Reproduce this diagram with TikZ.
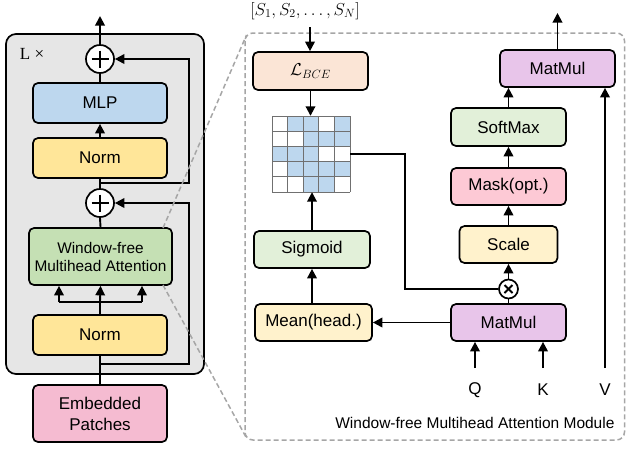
\documentclass[tikz,border=0pt]{standalone}
\usepackage{fontspec}
\setmainfont{Liberation Sans}
\newfontfamily\serifL{Liberation Serif}
\usetikzlibrary{arrows.meta}
\definecolor{panelgray}{HTML}{E6E6E6}
\definecolor{mlpblue}{HTML}{BDD7EE}
\definecolor{normyel}{HTML}{FFE699}
\definecolor{wfgreen}{HTML}{C5E0B4}
\definecolor{embpink}{HTML}{F5BBD1}
\definecolor{lbcepeach}{HTML}{FBE5D6}
\definecolor{lightgreen}{HTML}{E2F0D9}
\definecolor{lightyel}{HTML}{FFF2CC}
\definecolor{maskpink}{HTML}{FDC9D5}
\definecolor{matpurple}{HTML}{E8C5EA}
\definecolor{dashgray}{HTML}{A6A6A6}
\definecolor{gridgray}{HTML}{707070}
\begin{document}
\begin{tikzpicture}[x=1pt,y=-1pt,
  box/.style={draw=black, line width=1.7pt, rounded corners=5pt, inner sep=0pt, align=center,
    font=\fontsize{17}{19}\selectfont},
  ln/.style={line width=1.9pt},
  arr/.style={line width=1.9pt, -{Triangle[length=9.5pt,width=9.5pt]}},
  pluscirc/.style={circle, draw=black, line width=1.7pt, fill=white, inner sep=0pt, minimum size=28pt},
  dashline/.style={draw=dashgray, line width=1.5pt, dash pattern=on 5pt off 3pt},
  cell/.style={draw=gridgray, line width=0.8pt}
]
\useasboundingbox (0,0) rectangle (626,448);

% ---------------- left panel ----------------
\node[draw=black, line width=1.7pt, fill=panelgray, rounded corners=10pt, minimum width=198pt, minimum height=340pt, inner sep=0pt] (panel) at (105,204) {};
\node[font=\serifL\fontsize{17}{17}\selectfont] (lx) at (32,54) {L ×};

\node[pluscirc] (p1) at (100,59) {};
\draw[line width=2.6pt] (p1.center) ++(-8.5,0) -- ++(17,0);
\draw[line width=2.6pt] (p1.center) ++(0,-8.5) -- ++(0,17);
\node[box, fill=mlpblue, minimum width=134pt, minimum height=40pt] (mlp) at (100,103) {MLP};
\node[box, fill=normyel, minimum width=134pt, minimum height=40pt] (normt) at (100,158) {Norm};
\node[pluscirc] (p2) at (100,203) {};
\draw[line width=2.6pt] (p2.center) ++(-8.5,0) -- ++(17,0);
\draw[line width=2.6pt] (p2.center) ++(0,-8.5) -- ++(0,17);
\node[box, fill=wfgreen, minimum width=143pt, minimum height=57pt, font=\fontsize{15.4}{18}\selectfont] (wf) at (100.5,256.5) {Window-free\\Multihead Attention};
\node[box, fill=normyel, minimum width=134pt, minimum height=40pt] (normb) at (100,335) {Norm};
\node[box, fill=embpink, minimum width=134pt, minimum height=57pt, font=\fontsize{17}{21}\selectfont] (emb) at (100,413.5) {Embedded\\Patches};

\coordinate (top1) at (100,16);
\coordinate (rx) at (189,0);
\coordinate (b1) at (100,183);
\coordinate (b2) at (100,364);
\coordinate (fan) at (100,302);
\coordinate (fl) at (59,302);
\coordinate (fr) at (142,302);

\draw[arr] (p1.north) -- (top1);
\draw[ln] (mlp.north) -- (p1.south);
\draw[arr] (normt.north) -- (mlp.south);
\draw[ln] (p2.north) -- (normt.south);
\draw[arr] (b1) -- (b1 -| rx) |- (p1.east);
\draw[ln] (wf.north) -- (p2.south);
\draw[ln] (normb.north) -- (fan);
\draw[ln] (fl) -- (fr);
\draw[arr] (fl) -- (fl |- wf.south);
\draw[arr] (fan) -- (wf.south);
\draw[arr] (fr) -- (fr |- wf.south);
\draw[ln] (emb.north) -- (normb.south);
\draw[arr] (b2) -- (b2 -| rx) |- (p2.east);

% ---------------- right panel ----------------
\coordinate (rtl) at (245,33);
\coordinate (rbr) at (624.5,440);
\draw[dashline, rounded corners=8pt] (rtl) rectangle (rbr);
\coordinate (dtop) at (246.5,35);
\coordinate (dbot) at (246.5,438);
\coordinate (wft) at (163,228);
\coordinate (wfb) at (163,285);
\draw[dashline] (wft) -- (dtop);
\draw[dashline] (wfb) -- (dbot);

\node[font=\fontsize{17}{17}\selectfont] (seq) at (305,11) {$[S_1,S_2,\ldots,S_N]$};
\node[box, fill=lbcepeach, minimum width=115pt, minimum height=38pt] (lbce) at (310.5,71) {$\mathcal{L}_{BCE}$};

% grid
\node[inner sep=0pt, minimum width=78pt, minimum height=76pt] (grid) at (311,154) {};
\foreach \r/\row in {0/{0,1,1,0,1},1/{0,0,1,1,1},2/{1,1,1,0,0},3/{0,1,1,1,1},4/{0,0,1,1,0}}{
  \foreach \v [count=\c from 0] in \row {
    \ifnum\v=1
      \fill[mlpblue] (272+\c*15.6,116+\r*15.2) rectangle ++(15.6,15.2);
    \fi
  }
}
\foreach \c in {0,...,5} \draw[cell] (272+\c*15.6,116) -- (272+\c*15.6,192);
\foreach \r in {0,...,5} \draw[cell] (272,116+\r*15.2) -- (350,116+\r*15.2);

\node[box, fill=lightgreen, minimum width=116pt, minimum height=37pt] (sig) at (312,249.5) {Sigmoid};
\node[box, fill=lightyel, minimum width=117pt, minimum height=37pt] (mean) at (313.5,322.5) {Mean(head.)};
\node[box, fill=matpurple, minimum width=115pt, minimum height=37pt] (mmb) at (508.5,322.5) {MatMul};
\node[circle, draw=black, line width=1.7pt, fill=white, inner sep=0pt, minimum size=19pt] (ox) at (508.5,289) {};
\draw[line width=1.8pt] (ox.center) ++(-4,-4) -- ++(8,8);
\draw[line width=1.8pt] (ox.center) ++(-4,4) -- ++(8,-8);
\node[box, fill=lightyel, minimum width=98pt, minimum height=37pt] (scale) at (508.5,244.5) {Scale};
\node[box, fill=maskpink, minimum width=115pt, minimum height=37pt] (mask) at (508.5,186.5) {Mask(opt.)};
\node[box, fill=lightgreen, minimum width=115pt, minimum height=38pt] (soft) at (508.5,127) {SoftMax};
\node[box, fill=matpurple, minimum width=115pt, minimum height=37pt] (mmt) at (557.5,68.5) {MatMul};

\node[font=\fontsize{17}{17}\selectfont] (q) at (475,390) {Q};
\node[font=\fontsize{17}{17}\selectfont] (k) at (543,390) {K};
\node[font=\fontsize{17}{17}\selectfont] (v) at (605,390) {V};
\coordinate (qs) at (475,368);
\coordinate (ks) at (543,368);
\coordinate (vs) at (605,368);
\coordinate (outt) at (557.5,13);
\coordinate (seqb) at (310,27);

\node[font=\fontsize{15.5}{17}\selectfont, anchor=east] (cap) at (618,423) {Window-free Multihead Attention Module};

\draw[arr] (seqb) -- (seqb |- lbce.north);
\draw[arr] (lbce.south) -- (lbce.south |- grid.north);
\draw[arr] (sig.north) -- (sig.north |- grid.south);
\draw[arr] (sig.south |- mean.north) -- (sig.south);
\draw[arr] (mmb.west) -- (mean.east);
\draw[ln] (grid.east) -- ++(55,0) |- (ox.west);
\draw[ln] (mmb.north) -- (ox.south);
\draw[arr] (ox.north) -- (scale.south);
\draw[arr] (scale.north) -- (mask.south);
\draw[arr] (mask.north) -- (soft.south);
\draw[arr] (soft.north) -- (soft.north |- mmt.south);
\draw[arr] (mmt.north) -- (outt);
\draw[arr] (vs) -- (vs |- mmt.south);
\draw[arr] (qs) -- (qs |- mmb.south);
\draw[arr] (ks) -- (ks |- mmb.south);
\end{tikzpicture}
\end{document}
